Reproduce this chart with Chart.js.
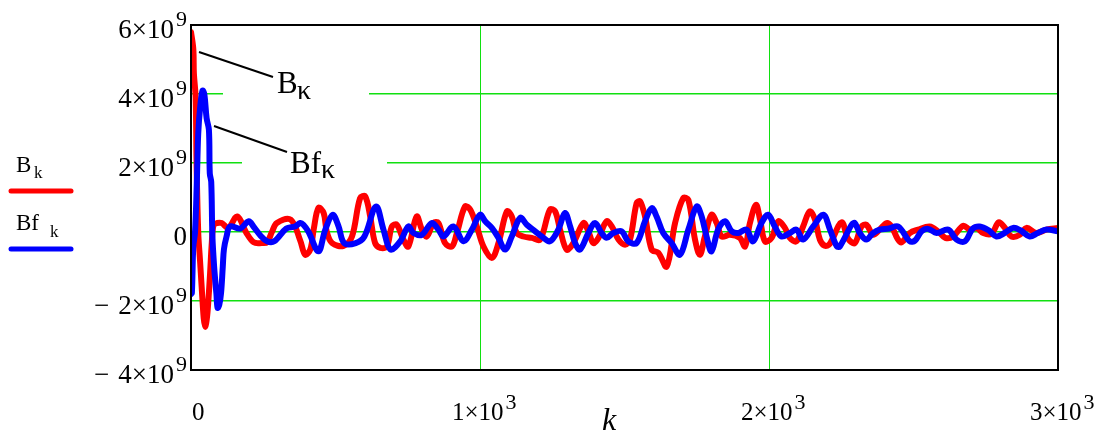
<!DOCTYPE html>
<html>
<head>
<meta charset="utf-8">
<script src="https://cdn.jsdelivr.net/npm/chart.js@4.4.0/dist/chart.umd.min.js"></script>
<style>
html, body { margin: 0; padding: 0; background: #fff; }
#wrap { width: 1102px; height: 435px; }
</style>
</head>
<body>
<div id="wrap"><canvas id="c" width="1102" height="435"></canvas></div>
<script>
// B_k (red), values in units of 1e9
const kB = [0, 8, 10, 16, 19, 25, 31, 37, 44, 49, 55, 60, 66, 72, 78, 90, 106, 129, 160, 192, 217, 245, 263, 280, 297, 345,
  378, 395, 413, 425, 441, 459, 470, 488, 528, 557, 585, 603, 620, 637, 655, 678, 695, 712, 735, 752, 781, 799, 816, 839,
  856, 879, 903, 920, 948, 966, 989, 1012, 1041, 1064, 1093, 1110, 1127, 1150, 1179, 1208, 1242, 1260, 1277, 1300, 1323,
  1358, 1375, 1392, 1410, 1438, 1456, 1479, 1502, 1519, 1542, 1554, 1571, 1594, 1617, 1646, 1675, 1703, 1721, 1744, 1761,
  1778, 1801, 1819, 1836, 1865, 1899, 1917, 1934, 1955, 1969, 1986, 2009, 2032, 2055, 2072, 2095, 2118, 2141, 2159, 2176,
  2193, 2210, 2251, 2274, 2297, 2320, 2337, 2360, 2383, 2407, 2424, 2445, 2459, 2487, 2516, 2556, 2585, 2610, 2637, 2672,
  2695, 2718, 2741, 2770, 2795, 2816, 2839, 2868, 2891, 2925, 2960, 3000];
const valB = [5.8, 5.3, 4.6, 3.9, 2.1, 0.0, -0.8, -1.6, -2.5, -2.75, -2.5, -2.0, -1.2, -0.3, 0.2, 0.26, 0.26, 0.12, 0.45, -0.03, -0.3, -0.32, -0.3, 0.0, 0.26, 0.36,
  -0.25, -0.66, -0.5, 0.1, 0.7, 0.55, 0.0, -0.32, -0.4, -0.13, 0.98, 1.03, 0.45, -0.32, -0.46, -0.42, 0.16, 0.21, -0.22, -0.42, 0.45, 0.07, -0.13, 0.26,
  0.26, -0.32, -0.42, -0.03, 0.74, 0.65, 0.16, -0.42, -0.75, -0.32, 0.6, 0.45, -0.03, -0.13, -0.17, -0.22, 0.65, 0.6, 0.07, -0.51, -0.32,
  0.26, 0.02, -0.32, -0.17, 0.31, 0.16, -0.22, -0.37, -0.22, 0.84, 0.89, 0.45, -0.51, -0.6, -1.0, 0.26, 0.98, 0.93, -0.22, -0.66,
  -0.13, 0.5, 0.26, -0.13, -0.08, -0.17, -0.42, 0.26, 0.79, 0.36, -0.27, -0.17, 0.31, 0.12, -0.17, -0.27, 0.16, 0.6, 0.36, -0.22,
  -0.4, -0.35, 0.28, -0.2, -0.32, 0.16, 0.21, -0.08, 0.07, 0.26, 0.16, -0.2, -0.3, -0.03, 0.07, 0.16, 0.02, -0.17, -0.13, 0.18,
  0.07, 0.12, -0.03, -0.05, 0.28, 0.12, -0.13, -0.08, 0.12, -0.03, 0.07, 0.12];

// Bf_k (blue)
const kBf = [0, 3, 8, 14, 20, 25, 32, 40, 46, 54, 62, 65, 70, 74, 80, 88, 92, 98, 104, 110, 114, 123, 135, 170, 200, 216,
  240, 263, 288, 330, 360, 378, 389, 407, 441, 464, 490, 510, 530, 570, 600, 640, 666, 690, 724, 752, 770, 799, 833, 856,
  874, 908, 943, 972, 1000, 1018, 1041, 1064, 1087, 1110, 1139, 1162, 1191, 1214, 1242, 1271, 1294, 1312, 1329, 1346, 1375,
  1398, 1421, 1438, 1461, 1490, 1513, 1542, 1571, 1594, 1611, 1634, 1663, 1692, 1721, 1750, 1767, 1784, 1801, 1824, 1848,
  1871, 1894, 1922, 1945, 1974, 1997, 2020, 2043, 2072, 2095, 2118, 2153, 2188, 2211, 2235, 2245, 2286, 2297, 2314, 2337,
  2360, 2383, 2415, 2447, 2487, 2505, 2528, 2551, 2580, 2620, 2649, 2678, 2705, 2729, 2760, 2787, 2815, 2845, 2870, 2902,
  2930, 2960, 3000];
const valBf = [-1.8, -1.77, -0.42, 0.0, 1.4, 2.85, 3.64, 4.1, 4.0, 3.3, 2.96, 1.7, 1.45, -0.1, -1.0, -1.8, -2.2, -2.1, -1.77, -1.0, -0.5, -0.13, 0.16, 0.1, 0.31, 0.16,
  -0.1, -0.27, -0.27, 0.1, 0.16, 0.26, 0.21, 0.0, -0.56, 0.05, 0.5, 0.18, -0.32, -0.32, -0.13, 0.74, 0.07, -0.51, -0.27, 0.16, -0.03, -0.08, 0.26, 0.07,
  -0.13, 0.16, -0.27, 0.07, 0.5, 0.31, 0.12, -0.17, -0.51, -0.13, 0.41, 0.21, 0.02, -0.13, -0.27, 0.07, 0.55, 0.16, -0.32, -0.51, -0.03,
  0.26, -0.03, -0.17, -0.03, 0.02, -0.27, -0.32, 0.31, 0.69, 0.45, -0.03, -0.32, -0.66, 0.07, 0.74, 0.45, -0.13, -0.56, 0.07, 0.31,
  0.02, -0.03, 0.07, -0.27, 0.26, 0.5, 0.16, -0.13, -0.03, 0.07, -0.22, 0.16, 0.5, 0.07, -0.42, -0.42, 0.21, 0.26, -0.03, -0.22,
  -0.03, 0.07, 0.1, 0.16, -0.27, -0.25, 0.02, 0.09, -0.03, 0.07, -0.22, -0.27, 0.1, 0.16, 0.05, -0.13, -0.03, 0.12, 0.05, -0.13,
  -0.03, 0.07, 0.02];

const xTicks = [0, 1000, 2000, 3000];
const xTickLabels = ['0', '1×10^3', '2×10^3', '3×10^3'];
const yTicks = [6, 4, 2, 0, -2, -4];
const yTickLabels = ['6×10^9', '4×10^9', '2×10^9', '0', '−2×10^9', '−4×10^9'];

const SERIF = '"Liberation Serif", "Times New Roman", serif';
const GRID = '#10e010';

function pts(ks, vs) {
    return ks.map((k, i) => ({ x: k, y: vs[i] }));
}

const decor = {
    id: 'decor',
    beforeDatasetsDraw(chart) {
        // white boxes behind the curve labels cut the grid lines
        const ctx = chart.ctx;
        ctx.save();
        ctx.fillStyle = '#fff';
        ctx.fillRect(223, 60, 146, 40);
        ctx.fillRect(242, 140, 145, 40);
        ctx.restore();
    },
    afterDatasetsDraw(chart) {
        const ctx = chart.ctx;
        const a = chart.chartArea;
        ctx.save();
        ctx.strokeStyle = '#000';
        ctx.lineWidth = 2;
        ctx.strokeRect(a.left, a.top, a.right - a.left, a.bottom - a.top);
        ctx.restore();
    },
    afterDraw(chart) {
        const ctx = chart.ctx;
        const xs = chart.scales.x, ys = chart.scales.y;
        ctx.save();
        ctx.fillStyle = '#000';
        ctx.textAlign = 'left';
        ctx.textBaseline = 'alphabetic';

        // y tick labels
        yTicks.forEach((v, i) => {
            const p = ys.getPixelForValue(v);
            let lab = yTickLabels[i];
            const neg = lab.startsWith('−');
            if (neg) lab = lab.slice(1);
            const [main, sup] = lab.split('^');
            ctx.font = `27px ${SERIF}`;
            const wm = ctx.measureText(main).width;
            if (sup) {
                ctx.font = `22px ${SERIF}`;
                const ws = ctx.measureText(sup).width;
                const sx = 187 - ws;
                ctx.fillText(sup, sx, p + 0.5);
                ctx.font = `27px ${SERIF}`;
                ctx.fillText(main, sx - 2 - wm, p + 12.5);
            } else {
                ctx.fillText(main, 187 - wm, p + 13);
            }
            if (neg) ctx.fillText('−', 94, p + 12.5);
        });

        // x tick labels
        xTicks.forEach((v, i) => {
            const p = xs.getPixelForValue(v);
            const [main, sup] = xTickLabels[i].split('^');
            ctx.font = `25px ${SERIF}`;
            if (sup) {
                const wm = ctx.measureText(main).width;
                ctx.fillText(main, p - 28, 420);
                ctx.font = `22px ${SERIF}`;
                ctx.fillText(sup, p - 28 + wm + 2, 409);
            } else {
                ctx.fillText(main, p + 1, 420);
            }
        });

        // axis title
        ctx.font = `italic 32px ${SERIF}`;
        ctx.fillText('k', 602, 430);

        // legend
        ctx.font = `23px ${SERIF}`;
        ctx.fillText('B', 16, 172);
        ctx.fillText('Bf', 16, 230);
        ctx.font = `17px ${SERIF}`;
        ctx.fillText('k', 34, 178);
        ctx.fillText('k', 50, 237);
        ctx.lineCap = 'round';
        ctx.lineWidth = 5;
        ctx.strokeStyle = '#ff0000';
        ctx.beginPath(); ctx.moveTo(11, 191); ctx.lineTo(71, 191); ctx.stroke();
        ctx.strokeStyle = '#0000ff';
        ctx.beginPath(); ctx.moveTo(11, 249); ctx.lineTo(71, 249); ctx.stroke();

        // curve labels with leader lines
        ctx.lineCap = 'butt';
        ctx.lineWidth = 2;
        ctx.strokeStyle = '#000';
        ctx.beginPath(); ctx.moveTo(199, 52); ctx.lineTo(273, 77); ctx.stroke();
        ctx.beginPath(); ctx.moveTo(214, 126); ctx.lineTo(287, 152); ctx.stroke();
        ctx.font = `31px ${SERIF}`;
        ctx.fillText('B', 277, 93);
        ctx.fillText('Bf', 290, 173);
        ctx.font = `28px ${SERIF}`;
        ctx.fillText('κ', 297, 99);
        ctx.fillText('κ', 321, 178);
        ctx.restore();
    }
};

const lineStyle = {
    borderWidth: 6, pointRadius: 0, tension: 0.35,
    borderJoinStyle: 'round', borderCapStyle: 'round'
};

new Chart(document.getElementById('c'), {
    type: 'line',
    data: {
        datasets: [
            { ...lineStyle, label: 'Bf', data: pts(kBf, valBf), borderColor: '#0000ff', order: 0 },
            { ...lineStyle, label: 'B', data: pts(kB, valB), borderColor: '#ff0000', order: 1 }
        ]
    },
    options: {
        responsive: false,
        animation: false,
        devicePixelRatio: 1,
        layout: { padding: { left: 191, right: 44, top: 25, bottom: 65 } },
        plugins: { legend: { display: false }, tooltip: { enabled: false } },
        scales: {
            x: {
                type: 'linear', min: 0, max: 3000,
                afterBuildTicks: s => { s.ticks = xTicks.map(v => ({ value: v })); },
                afterFit: s => { s.height = 0; },
                ticks: { display: false },
                grid: { drawTicks: false, lineWidth: 1, color: c => (c.tick.value > 0 && c.tick.value < 3000) ? GRID : 'rgba(0,0,0,0)' },
                border: { display: false }
            },
            y: {
                type: 'linear', min: -4, max: 6,
                afterBuildTicks: s => { s.ticks = yTicks.map(v => ({ value: v })); },
                afterFit: s => { s.width = 0; },
                ticks: { display: false },
                grid: { drawTicks: false, lineWidth: 1.5, color: c => (c.tick.value > -4 && c.tick.value < 6) ? GRID : 'rgba(0,0,0,0)' },
                border: { display: false }
            }
        }
    },
    plugins: [decor]
});
</script>
</body>
</html>
